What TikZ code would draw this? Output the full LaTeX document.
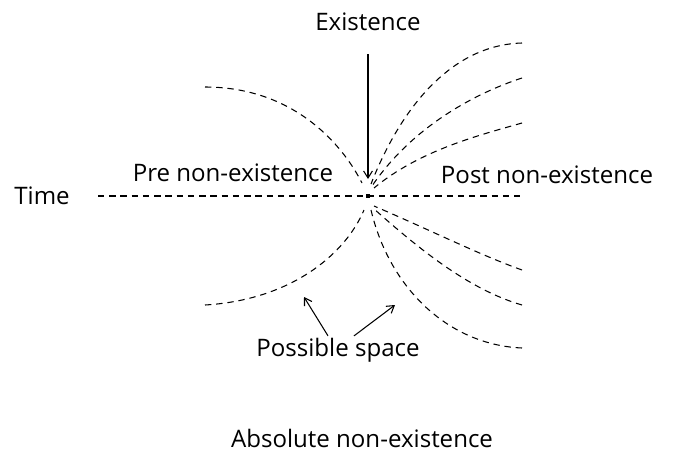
\documentclass[tikz,border=0pt]{standalone}
\usepackage{fontspec}
\setmainfont{Open Sans}
\usetikzlibrary{arrows.meta}
\tikzset{
  path/.style={black, line width=0.6pt, dash pattern=on 3.6pt off 2.8pt},
  lbl/.style={font=\fontsize{13.7}{15}\selectfont, inner sep=1pt},
  pointer/.style={-{Straight Barb[length=4pt,width=5pt]}, line width=0.6pt}
}
\begin{document}
\begin{tikzpicture}[x=0.02cm, y=-0.02cm]
    % Fix the page to the size of the reference (0 < x < 679, 0 < y < 453)
    \useasboundingbox (0,0) rectangle (679,453);

    % The present moment on the time line
    \coordinate (c) at (368,196);
    \fill (c) ++(-2,-2) rectangle ++(4,4);

    % Labels
    \node[lbl] (time) at (42,196) {Time};
    \node[lbl] (exist) at (368,22) {Existence};
    \node[lbl] (pre) at (233,173) {Pre non-existence};
    \node[lbl] (post) at (547,175) {Post non-existence};
    \node[lbl] (space) at (338,350) {Possible space};
    \node[lbl] (absolute) at (362,438) {Absolute non-existence};

    % Time axis (dashed)
    \draw[path] (98,196) -- (522,196);

    % Paths coming from the left
    \draw[path] (205,87) .. controls (290,87) and (340,140) .. (362,183);
    \draw[path] (205,305) .. controls (290,300) and (345,255) .. (364,210);

    % Paths going out to the right (above the axis)
    \draw[path] (522,43) .. controls (450,45) and (400,110) .. (371,184);
    \draw[path] (522,78) .. controls (470,95) and (410,130) .. (372,186);
    \draw[path] (522,123) .. controls (480,135) and (420,150) .. (374,188);

    % Paths going out to the right (below the axis)
    \draw[path] (522,270) .. controls (480,255) and (430,230) .. (374,206);
    \draw[path] (522,305) .. controls (470,290) and (420,250) .. (373,208);
    \draw[path] (522,348) .. controls (450,345) and (390,290) .. (371,210);

    % Pointers
    \coordinate (e) at (368,179);
    \coordinate (s1) at (304,297);
    \coordinate (s2) at (395,305);
    \draw[pointer, shorten <=12pt] (exist) -- (e);
    \draw[pointer] (space.north -| 328,0) -- (s1);
    \draw[pointer] (space.north -| 354,0) -- (s2);
\end{tikzpicture}
\end{document}
